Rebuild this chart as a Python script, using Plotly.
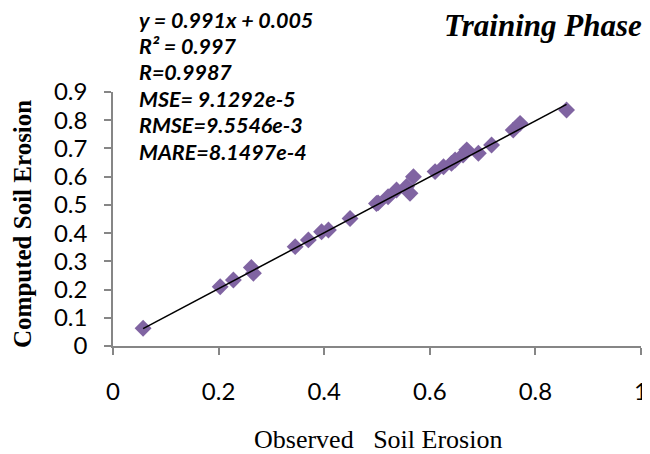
import plotly.graph_objects as go

# Observed vs computed soil erosion (training phase)
observed = [0.057, 0.203, 0.228, 0.262, 0.266, 0.345, 0.370, 0.395, 0.408, 0.449,
            0.499, 0.502, 0.521, 0.537, 0.556, 0.5625, 0.569, 0.610, 0.626, 0.641,
            0.648, 0.663, 0.670, 0.692, 0.717, 0.758, 0.771, 0.859]
computed = [0.063, 0.210, 0.234, 0.278, 0.258, 0.352, 0.376, 0.405, 0.411, 0.452,
            0.505, 0.507, 0.529, 0.553, 0.565, 0.541, 0.600, 0.618, 0.635, 0.647,
            0.659, 0.677, 0.695, 0.683, 0.712, 0.765, 0.789, 0.836]

slope = 0.991
intercept = 0.005

x_ticks = [0, 0.2, 0.4, 0.6, 0.8, 1]
x_labels = ["0", "0.2", "0.4", "0.6", "0.8", "1"]
y_ticks = [0, 0.1, 0.2, 0.3, 0.4, 0.5, 0.6, 0.7, 0.8, 0.9]
y_labels = ["0", "0.1", "0.2", "0.3", "0.4", "0.5", "0.6", "0.7", "0.8", "0.9"]

stats_lines = ["y = 0.991x + 0.005", "R² = 0.997", "R=0.9987",
               "MSE= 9.1292e-5", "RMSE=9.5546e-3", "MARE=8.1497e-4"]

x_line = [min(observed), max(observed)]
y_line = [slope * v + intercept for v in x_line]

# page has an 8px body margin; figure occupies 642x446 of the 650x454 window
OFF = 8
L, T = 113 - OFF, 92 - OFF
PW, PH = 528, 254

fig = go.Figure()
fig.add_trace(go.Scatter(
    x=observed, y=computed, mode="markers",
    marker=dict(symbol="diamond", size=13, color="#8064A2", line=dict(width=0)),
    showlegend=False))
fig.add_trace(go.Scatter(
    x=x_line, y=y_line, mode="lines",
    line=dict(color="black", width=1.5), showlegend=False))

axis_common = dict(showgrid=False, zeroline=False, showline=True,
                   linecolor="#868686", linewidth=1.5, ticks="outside",
                   ticklen=7, tickcolor="#868686", tickwidth=1.5,
                   tickfont=dict(family="Lato", size=24, color="black"))

fig.update_xaxes(range=[0, 1], tickvals=x_ticks, ticktext=x_labels,
                 ticklabelstandoff=16, **axis_common)
fig.update_yaxes(range=[0, 0.9], tickvals=y_ticks, ticktext=y_labels,
                 ticklabelstandoff=12, **axis_common)


def px(xp):
    return (xp - 113) / PW


def py(yp):
    return (346 - yp) / PH


annotations = []
for i, t in enumerate(stats_lines):
    annotations.append(dict(
        text=f"<b><i>{t}</i></b>", xref="paper", yref="paper",
        x=px(137), y=py(19.5 + 26.4 * i),
        xanchor="left", yanchor="middle", showarrow=False,
        font=dict(family="Lato", size=21.5, color="black")))
annotations.append(dict(
    text="<b><i>Training Phase</i></b>", xref="paper", yref="paper",
    x=px(644), y=py(25), xanchor="right", yanchor="middle",
    showarrow=False, font=dict(family="Liberation Serif", size=31, color="black")))
annotations.append(dict(
    text="<b>Computed Soil Erosion</b>", xref="paper", yref="paper",
    x=px(22), y=py(224), xanchor="center", yanchor="middle",
    textangle=-90, showarrow=False,
    font=dict(family="Liberation Serif", size=25, color="black")))
annotations.append(dict(
    text="Observed&nbsp;&nbsp;&nbsp;Soil Erosion", xref="paper", yref="paper",
    x=px(377.5), y=py(439), xanchor="center", yanchor="middle",
    showarrow=False, font=dict(family="Liberation Serif", size=26, color="black")))

fig.update_layout(
    width=650 - OFF, height=454 - OFF,
    margin=dict(l=L, r=9, t=T, b=454 - OFF - T - PH, autoexpand=False),
    paper_bgcolor="white", plot_bgcolor="white",
    annotations=annotations)

fig.write_html("out.html")
